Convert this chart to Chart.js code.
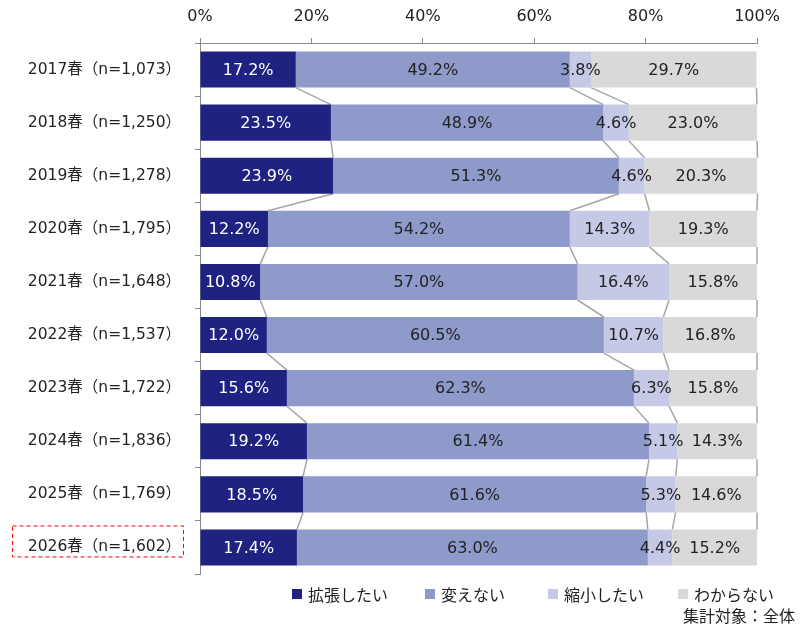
<!DOCTYPE html>
<html lang="ja">
<head>
<meta charset="utf-8">
<script src="https://cdn.jsdelivr.net/npm/chart.js@4/dist/chart.umd.min.js"></script>
<style>
  html, body { margin: 0; padding: 0; background: #fff; }
  #wrap { position: relative; width: 803px; height: 635px; }
  #legend {
    position: absolute; left: 292px; top: 582px; display: flex;
    font: 16px 'DejaVu Sans', 'Noto Sans CJK JP', sans-serif; color: #222;
  }
  #legend .item { display: flex; align-items: center; }
  #legend .box { width: 10px; height: 10px; margin-right: 6px; }
  #note {
    position: absolute; right: 8px; top: 603px;
    font: 16px 'DejaVu Sans', 'Noto Sans CJK JP', sans-serif; color: #222;
  }
</style>
</head>
<body>
<div id="wrap">
  <canvas id="chart" width="803" height="635"></canvas>
  <div id="legend"></div>
  <div id="note">集計対象：全体</div>
</div>
<script>
// データ
const labels = [
    '2017春（n=1,073）', '2018春（n=1,250）', '2019春（n=1,278）', '2020春（n=1,795）',
    '2021春（n=1,648）', '2022春（n=1,537）', '2023春（n=1,722）', '2024春（n=1,836）',
    '2025春（n=1,769）', '2026春（n=1,602）'
];
const kakucho = [17.2, 23.5, 23.9, 12.2, 10.8, 12.0, 15.6, 19.2, 18.5, 17.4];
const kaenai = [49.2, 48.9, 51.3, 54.2, 57.0, 60.5, 62.3, 61.4, 61.6, 63.0];
const shukusho = [3.8, 4.6, 4.6, 14.3, 16.4, 10.7, 6.3, 5.1, 5.3, 4.4];
const wakaranai = [29.7, 23.0, 20.3, 19.3, 15.8, 16.8, 15.8, 14.3, 14.6, 15.2];
const seriesNames = ['拡張したい', '変えない', '縮小したい', 'わからない'];
const xTicks = [0, 20, 40, 60, 80, 100];

const FONT = "'DejaVu Sans', 'Noto Sans CJK JP', sans-serif";
const colors = ['#1f2280', '#8e9aca', '#c5c9e6', '#d9d9d9'];
const textColors = ['#ffffff', '#222222', '#222222', '#222222'];
const legendWidths = [133, 123, 130, 0];

// 棒の間の接続線
const connectorPlugin = {
    id: 'connectors',
    beforeDatasetsDraw(chart) {
        const ctx = chart.ctx;
        ctx.save();
        ctx.strokeStyle = '#a6a6a6';
        ctx.lineWidth = 1.5;
        chart.data.datasets.forEach((ds, k) => {
            const bars = chart.getDatasetMeta(k).data;
            for (let i = 0; i < bars.length - 1; i++) {
                const a = bars[i], b = bars[i + 1];
                ctx.beginPath();
                ctx.moveTo(a.x, a.y + a.height / 2);
                ctx.lineTo(b.x, b.y - b.height / 2);
                ctx.stroke();
            }
        });
        ctx.restore();
    }
};

// 値ラベル
const valueLabelPlugin = {
    id: 'valueLabels',
    afterDatasetsDraw(chart) {
        const ctx = chart.ctx;
        ctx.save();
        ctx.font = '16px ' + FONT;
        ctx.textAlign = 'center';
        ctx.textBaseline = 'middle';
        chart.data.datasets.forEach((ds, k) => {
            chart.getDatasetMeta(k).data.forEach((bar, i) => {
                ctx.fillStyle = textColors[k];
                ctx.fillText(ds.data[i].toFixed(1) + '%', (bar.x + bar.base) / 2, bar.y + 1);
            });
        });
        ctx.restore();
    }
};

// 2026年ラベルの赤枠
const highlightPlugin = {
    id: 'highlight',
    afterDraw(chart) {
        const y = chart.scales.y.getPixelForValue(labels.length - 1);
        const ctx = chart.ctx;
        ctx.save();
        ctx.strokeStyle = '#ff0000';
        ctx.lineWidth = 1;
        ctx.setLineDash([4, 3]);
        ctx.strokeRect(12.5, y - 21.5, 171, 31);
        ctx.restore();
    }
};

// HTML凡例（チャートの凡例項目から作成）
const htmlLegendPlugin = {
    id: 'htmlLegend',
    afterUpdate(chart) {
        const box = document.getElementById('legend');
        box.innerHTML = '';
        const items = chart.options.plugins.legend.labels.generateLabels(chart);
        items.forEach((item, i) => {
            const el = document.createElement('div');
            el.className = 'item';
            if (legendWidths[i]) el.style.width = legendWidths[i] + 'px';
            el.innerHTML = `<span class="box" style="background:${item.fillStyle}"></span><span>${item.text}</span>`;
            box.appendChild(el);
        });
    }
};

const datasetValues = [kakucho, kaenai, shukusho, wakaranai];

new Chart(document.getElementById('chart'), {
    type: 'bar',
    data: {
        labels: labels,
        datasets: datasetValues.map((vals, k) => ({
            label: seriesNames[k],
            data: vals,
            backgroundColor: colors[k],
            borderWidth: 0,
            categoryPercentage: 0.68,
            barPercentage: 1.0
        }))
    },
    options: {
        indexAxis: 'y',
        responsive: false,
        animation: false,
        layout: { padding: { left: 0, right: 46, top: 0, bottom: 61 } },
        scales: {
            x: {
                position: 'top',
                stacked: true,
                min: 0,
                max: 100,
                afterBuildTicks: (scale) => { scale.ticks = xTicks.map(v => ({ value: v })); },
                afterFit: (scale) => { scale.height = 43; },
                border: { color: '#888888', width: 1 },
                grid: { drawOnChartArea: false, tickLength: 5, color: '#888888' },
                ticks: {
                    color: '#222',
                    font: { family: FONT, size: 16 },
                    padding: 12,
                    callback: v => v + '%'
                }
            },
            y: {
                stacked: true,
                afterFit: (scale) => { scale.width = 200; },
                border: { color: '#888888', width: 1 },
                grid: { drawOnChartArea: false, tickLength: 5, color: '#888888', offset: true },
                ticks: {
                    color: '#222',
                    font: { family: FONT, size: 15.5 },
                    padding: 14
                }
            }
        },
        plugins: {
            legend: { display: false },
            tooltip: { enabled: false }
        }
    },
    plugins: [connectorPlugin, valueLabelPlugin, highlightPlugin, htmlLegendPlugin]
});
</script>
</body>
</html>
